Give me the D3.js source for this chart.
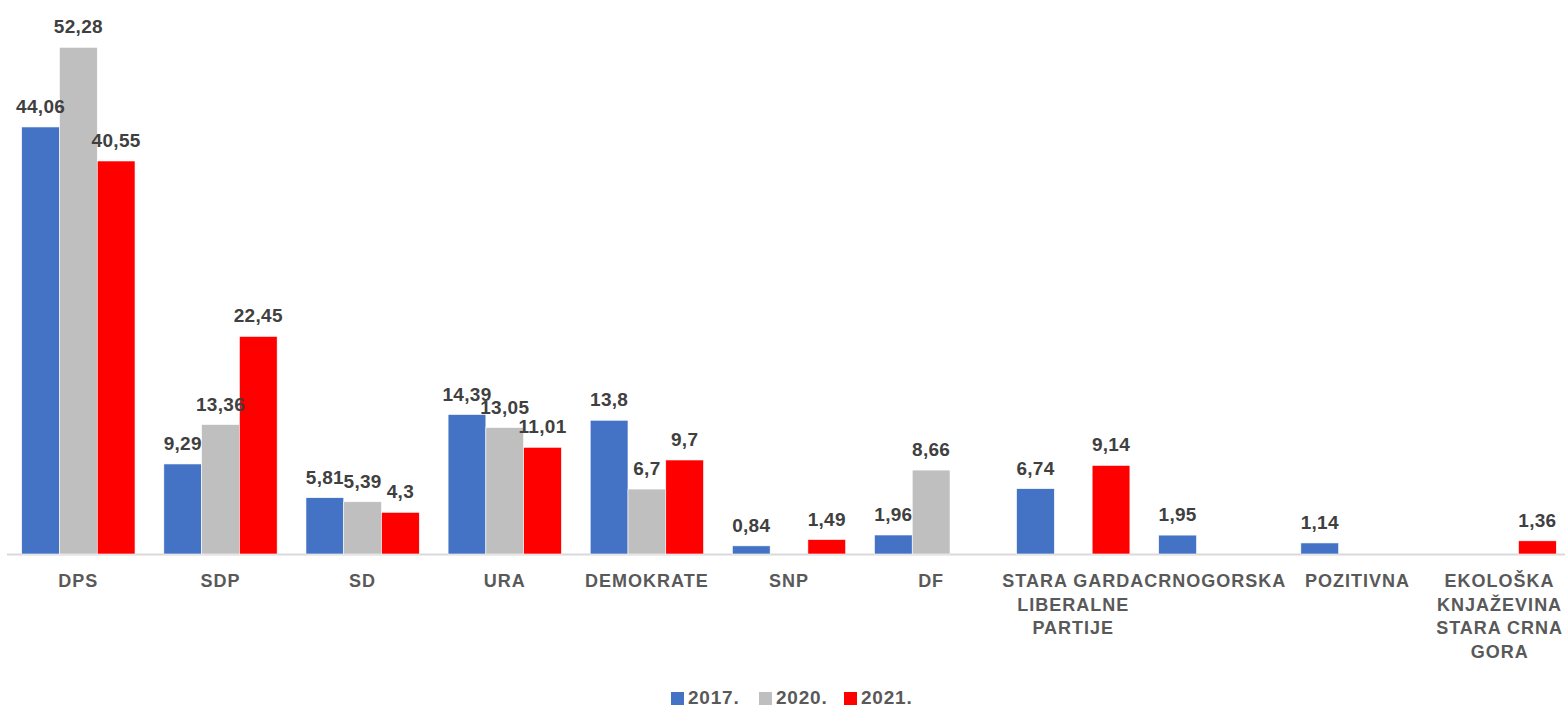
<!DOCTYPE html>
<html><head><meta charset="utf-8">
<script src="https://cdn.jsdelivr.net/npm/d3@7"></script>
<style>
html,body{margin:0;padding:0;background:#fff;}
svg{display:block;font-family:"Liberation Sans",Arial,Helvetica,sans-serif;font-weight:bold;}
</style></head>
<body><svg id="chart" width="1565" height="708"></svg>
<script>
const categories = ["DPS","SDP","SD","URA","DEMOKRATE","SNP","DF","STARA GARDA LIBERALNE PARTIJE","CRNOGORSKA","POZITIVNA","EKOLOŠKA KNJAŽEVINA STARA CRNA GORA"];
const seriesNames = ["2017.","2020.","2021."];
const values2017 = [44.06, 9.29, 5.81, 14.39, 13.8, 0.84, 1.96, 6.74, 1.95, 1.14, null];
const values2020 = [52.28, 13.36, 5.39, 13.05, 6.7, null, 8.66, null, null, null, null];
const values2021 = [40.55, 22.45, 4.3, 11.01, 9.7, 1.49, null, 9.14, null, null, 1.36];
const colors = ["#4472C4","#BFBFBF","#FF0000"];

const series = [values2017, values2020, values2021];
const svg = d3.select("#chart");
const W = 1565, H = 708;
const baseY = 554, topY = 47.3, maxRef = 52.28;

const x0 = d3.scaleBand().domain(categories).range([7.5, 1570.5]).paddingInner(0.2027).paddingOuter(0.1);
const x1 = d3.scaleBand().domain(seriesNames).range([0, x0.bandwidth()]);
const y = d3.scaleLinear().domain([0, maxRef]).range([baseY, topY]);

// baseline
svg.append("line").attr("x1", 7).attr("x2", W).attr("y1", baseY + 0.5).attr("y2", baseY + 0.5)
  .attr("stroke", "#D9D9D9").attr("stroke-width", 2);

const fmt = v => String(v).replace(".", ",");

const groups = svg.append("g").selectAll("g").data(categories).join("g")
  .attr("transform", d => `translate(${x0(d)},0)`);

groups.each(function(cat, i) {
  const g = d3.select(this);
  series.forEach((vals, s) => {
    const v = vals[i];
    if (v == null) return;
    g.append("rect")
      .attr("x", x1(seriesNames[s]))
      .attr("y", y(v))
      .attr("width", x1.bandwidth())
      .attr("height", baseY - y(v))
      .attr("fill", colors[s])
      .attr("stroke", "#fff").attr("stroke-width", 0.6);
  });
  series.forEach((vals, s) => {
    const v = vals[i];
    if (v == null) return;
    g.append("text")
      .attr("x", x1(seriesNames[s]) + x1.bandwidth() / 2)
      .attr("y", y(v) - 14)
      .attr("text-anchor", "middle")
      .attr("font-size", 19)
      .attr("letter-spacing", 0.3)
      .attr("fill", "#404040")
      .text(fmt(v));
  });
});

// category labels with wrapping
const maxW = x0.step();
categories.forEach(cat => {
  const cx = x0(cat) + x0.bandwidth() / 2;
  const t = svg.append("text").attr("text-anchor", "middle").attr("font-size", 18)
    .attr("letter-spacing", 1).attr("fill", "#595959");
  const words = cat.split(" ");
  let lines = [], cur = [];
  const probe = t.append("tspan");
  words.forEach(w => {
    const test = cur.concat([w]).join(" ");
    probe.text(test);
    if (cur.length && probe.node().getComputedTextLength() > maxW) {
      lines.push(cur.join(" ")); cur = [w];
    } else cur.push(w);
  });
  if (cur.length) lines.push(cur.join(" "));
  probe.remove();
  lines.forEach((ln, k) => {
    t.append("tspan").attr("x", cx).attr("y", 587 + k * 23.5).text(ln);
  });
});

// legend
const legX = [671, 759, 844];
seriesNames.forEach((n, s) => {
  svg.append("rect").attr("x", legX[s]).attr("y", 692).attr("width", 13).attr("height", 13).attr("fill", colors[s]);
  svg.append("text").attr("x", legX[s] + 17).attr("y", 704).attr("font-size", 19)
    .attr("letter-spacing", 0.8).attr("fill", "#595959").text(n);
});
</script></body></html>
